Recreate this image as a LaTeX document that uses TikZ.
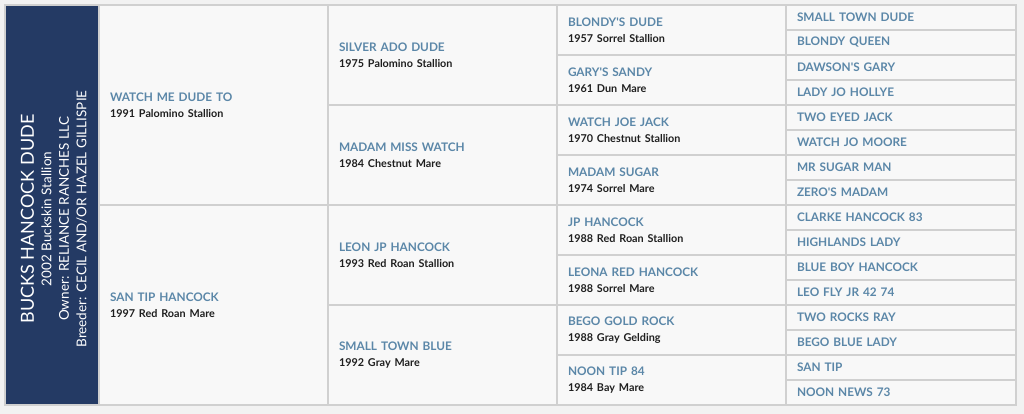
\documentclass[tikz,border=0pt]{standalone}
\usepackage{fontspec}
\setmainfont{Lato}
\usetikzlibrary{positioning}
\definecolor{navy}{HTML}{243A64}
\definecolor{nameblue}{HTML}{5B87A8}
\definecolor{cellline}{HTML}{D0D0D0}
\definecolor{cellfill}{HTML}{F8F8F8}
\definecolor{pagefill}{HTML}{F2F2F2}
\newcommand{\hname}[1]{{\bfseries\color{nameblue}#1}}
\newcommand{\hinfo}[1]{{\fontsize{10.8}{16}\selectfont\bfseries\color{black!88}#1}}

\begin{document}
\begin{tikzpicture}[x=1pt,y=-1pt,
  cell/.style={rectangle,draw=cellline,fill=cellfill,line width=1.6pt,outer sep=0pt,inner xsep=11pt,inner ysep=0pt,text width=207pt,align=left,font=\fontsize{11.8}{16}\selectfont},
  gen1/.style={cell,minimum height=200pt},
  gen2/.style={cell,minimum height=100pt},
  gen3/.style={cell,minimum height=50pt},
  gen4/.style={cell,minimum height=25pt,text width=208pt,font=\fontsize{11.8}{12}\selectfont},
  horsebox/.style={rectangle,draw=cellline,fill=navy,line width=1.6pt,outer sep=0pt,minimum width=94pt,minimum height=400pt}]
\useasboundingbox[fill=pagefill] (0,0) rectangle (1024,414);

\node[horsebox,anchor=north west](h_0) at (5,5){};
\node[rotate=90,align=center,text=white,font=\fontsize{13.5}{17.5}\selectfont](h_t) at ([shift={(2,14)}]h_0.center){{\fontsize{18}{17.5}\selectfont BUCKS HANCOCK DUDE}\\2002 Buckskin Stallion\\Owner: RELIANCE RANCHES LLC\\Breeder: CECIL AND/OR HAZEL GILLISPIE};

% parents
\node[gen1](h_s)[below right=0pt and 0pt of h_0.north east]{\hname{WATCH ME DUDE TO}\\\hinfo{1991 Palomino Stallion}};
\node[gen1](h_d)[below=0pt of h_s]{\hname{SAN TIP HANCOCK}\\\hinfo{1997 Red Roan Mare}};

% grandparents
\node[gen2](h_ss)[below right=0pt and 0pt of h_s.north east]{\hname{SILVER ADO DUDE}\\\hinfo{1975 Palomino Stallion}};
\node[gen2](h_sd)[below=0pt of h_ss]{\hname{MADAM MISS WATCH}\\\hinfo{1984 Chestnut Mare}};
\node[gen2](h_ds)[below right=0pt and 0pt of h_d.north east]{\hname{LEON JP HANCOCK}\\\hinfo{1993 Red Roan Stallion}};
\node[gen2](h_dd)[below=0pt of h_ds]{\hname{SMALL TOWN BLUE}\\\hinfo{1992 Gray Mare}};

% great grandparents
\node[gen3](h_sss)[below right=0pt and 0pt of h_ss.north east]{\hname{BLONDY\textquotesingle S DUDE}\\\hinfo{1957 Sorrel Stallion}};
\node[gen3](h_ssd)[below=0pt of h_sss]{\hname{GARY\textquotesingle S SANDY}\\\hinfo{1961 Dun Mare}};
\node[gen3](h_sds)[below right=0pt and 0pt of h_sd.north east]{\hname{WATCH JOE JACK}\\\hinfo{1970 Chestnut Stallion}};
\node[gen3](h_sdd)[below=0pt of h_sds]{\hname{MADAM SUGAR}\\\hinfo{1974 Sorrel Mare}};
\node[gen3](h_dss)[below right=0pt and 0pt of h_ds.north east]{\hname{JP HANCOCK}\\\hinfo{1988 Red Roan Stallion}};
\node[gen3](h_dsd)[below=0pt of h_dss]{\hname{LEONA RED HANCOCK}\\\hinfo{1988 Sorrel Mare}};
\node[gen3](h_dds)[below right=0pt and 0pt of h_dd.north east]{\hname{BEGO GOLD ROCK}\\\hinfo{1988 Gray Gelding}};
\node[gen3](h_ddd)[below=0pt of h_dds]{\hname{NOON TIP 84}\\\hinfo{1984 Bay Mare}};

% 4th generation
\node[gen4](h_ssss)[below right=0pt and 0pt of h_sss.north east]{\hname{SMALL TOWN DUDE}};
\node[gen4](h_sssd)[below=0pt of h_ssss]{\hname{BLONDY QUEEN}};
\node[gen4](h_ssds)[below=0pt of h_sssd]{\hname{DAWSON\textquotesingle S GARY}};
\node[gen4](h_ssdd)[below=0pt of h_ssds]{\hname{LADY JO HOLLYE}};
\node[gen4](h_sdss)[below=0pt of h_ssdd]{\hname{TWO EYED JACK}};
\node[gen4](h_sdsd)[below=0pt of h_sdss]{\hname{WATCH JO MOORE}};
\node[gen4](h_sdds)[below=0pt of h_sdsd]{\hname{MR SUGAR MAN}};
\node[gen4](h_sddd)[below=0pt of h_sdds]{\hname{ZERO\textquotesingle S MADAM}};
\node[gen4](h_dsss)[below=0pt of h_sddd]{\hname{CLARKE HANCOCK 83}};
\node[gen4](h_dssd)[below=0pt of h_dsss]{\hname{HIGHLANDS LADY}};
\node[gen4](h_dsds)[below=0pt of h_dssd]{\hname{BLUE BOY HANCOCK}};
\node[gen4](h_dsdd)[below=0pt of h_dsds]{\hname{LEO FLY JR 42 74}};
\node[gen4](h_ddss)[below=0pt of h_dsdd]{\hname{TWO ROCKS RAY}};
\node[gen4](h_ddsd)[below=0pt of h_ddss]{\hname{BEGO BLUE LADY}};
\node[gen4](h_ddds)[below=0pt of h_ddsd]{\hname{SAN TIP}};
\node[gen4](h_dddd)[below=0pt of h_ddds]{\hname{NOON NEWS 73}};

\end{tikzpicture}
\end{document}
